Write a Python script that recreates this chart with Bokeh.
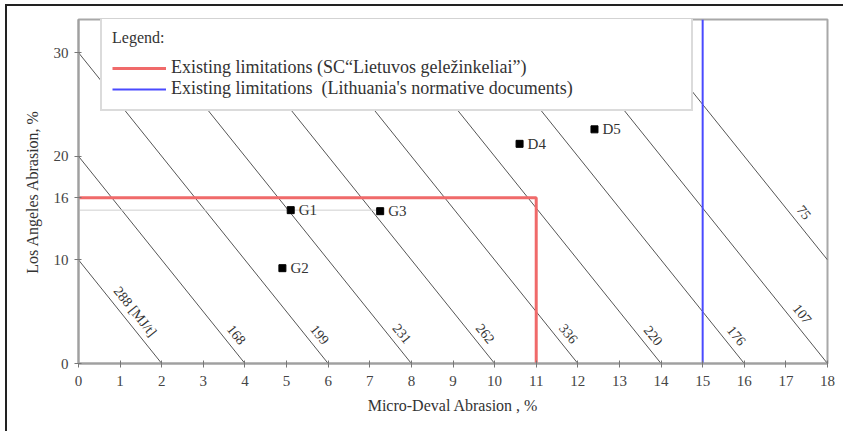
import math
from bokeh.plotting import figure
from bokeh.models import (ColumnDataSource, FixedTicker, Legend, LegendItem, Range1d)
from bokeh.core.properties import value
from bokeh.embed import file_html
from bokeh.resources import INLINE

# ---------------- data ----------------
x_ticks = [0, 1, 2, 3, 4, 5, 6, 7, 8, 9, 10, 11, 12, 13, 14, 15, 16, 17, 18]
y_ticks = [0, 10, 16, 20, 30]

# iso-lines:  LA + 5 * MDE = const
iso_const = [10, 20, 30, 40, 50, 60, 70, 80, 90, 100]
iso_slope = 5
iso_labels = ["288 [MJ/t]", "168", "199", "231", "262", "336", "220", "176", "107", "75"]
iso_label_y = [5.0, 2.8, 2.8, 2.9, 2.9, 2.9, 2.7, 2.7, 4.8, 14.6]

sample_names = ["G1", "G2", "G3", "D4", "D5"]
sample_mde = [5.1, 4.9, 7.25, 10.6, 12.4]
sample_la = [14.8, 9.2, 14.7, 21.2, 22.6]

sc_la_limit = 16      # SC "Lietuvos geležinkeliai"
sc_mde_limit = 11
lt_mde_limit = 15     # Lithuania's normative documents

x_max = 18
y_max = 33.2

# ---------------- figure ----------------
W, H = 838, 427
ML, MR, MT, MB = 71, 18, 13, 70
FONT = "Liberation Serif"

p = figure(width=W, height=H, output_backend="svg", toolbar_location=None,
           x_range=Range1d(0, x_max), y_range=Range1d(0, y_max),
           min_border_left=ML, min_border_right=MR, min_border_top=MT, min_border_bottom=MB)
p.styles = {"margin-top": "4px", "margin-left": "5px",
            "border-top": "2px solid #222", "border-left": "2px solid #222"}
p.background_fill_color = "white"
p.border_fill_color = "white"
p.outline_line_color = "#a8a8a8"
p.outline_line_width = 2
p.grid.visible = False

for ax in (p.xaxis[0], p.yaxis[0]):
    ax.axis_line_color = "#a0a0a0"
    ax.axis_line_width = 2
    ax.major_tick_line_color = "#777777"
    ax.major_tick_out = 4
    ax.major_tick_in = 3
    ax.minor_tick_line_color = None
    ax.major_label_text_font = FONT
    ax.major_label_text_font_size = "15px"
    ax.major_label_text_color = "#444444"
    ax.axis_label_text_font = FONT
    ax.axis_label_text_font_size = "16px"
    ax.axis_label_text_font_style = "normal"
    ax.axis_label_text_color = "#333333"

p.xaxis.ticker = FixedTicker(ticks=x_ticks)
p.yaxis.ticker = FixedTicker(ticks=y_ticks)
p.xaxis.axis_label = "Micro-Deval Abrasion , %"
p.yaxis.axis_label = "Los Angeles Abrasion, %"
p.xaxis.major_label_standoff = 8
p.yaxis.major_label_standoff = 6
p.xaxis.axis_label_standoff = 8
p.yaxis.axis_label_standoff = 10

# iso-lines clipped to the plot box
xs, ys = [], []
for c in iso_const:
    if c <= y_max:
        x0, y0 = 0.0, float(c)
    else:
        x0, y0 = (c - y_max) / iso_slope, y_max
    if c / iso_slope <= x_max:
        x1, y1 = c / iso_slope, 0.0
    else:
        x1, y1 = x_max, c - iso_slope * x_max
    xs.append([x0, x1])
    ys.append([y0, y1])
p.multi_line(xs, ys, line_color="#555555", line_width=1)

# iso-line labels
plot_w = W - ML - MR
plot_h = H - MT - MB
px_x = plot_w / x_max
px_y = plot_h / y_max
ang = -math.atan2(iso_slope * px_y, px_x)
lab_x = [(c - yy) / iso_slope for c, yy in zip(iso_const, iso_label_y)]
p.text(lab_x, iso_label_y, text=iso_labels, angle=ang, x_offset=15,
       text_font=value(FONT), text_font_size="14px", text_color="#333333",
       text_align="center", text_baseline="middle",
       background_fill_color="white")

# helper guide through G1/G3
p.line([0, sample_mde[2]], [sample_la[0], sample_la[0]], line_color="#cfcfcf", line_width=1)

# limits
red = p.line([0, sc_mde_limit, sc_mde_limit], [sc_la_limit, sc_la_limit, 0],
             line_color="#f06a6a", line_width=3)
blue = p.line([lt_mde_limit, lt_mde_limit], [0, y_max], line_color="#4a4aff", line_width=2)

# samples
src = ColumnDataSource(dict(x=sample_mde, y=sample_la, name=sample_names))
p.scatter("x", "y", source=src, marker="square", size=7, color="black")
p.text("x", "y", text="name", source=src, x_offset=8,
       text_font=value(FONT), text_font_size="15px", text_color="#333333",
       text_align="left", text_baseline="middle")

legend = Legend(items=[
    LegendItem(label="Existing limitations (SC\u201cLietuvos gele\u017einkeliai\u201d)", renderers=[red]),
    LegendItem(label="Existing limitations  (Lithuania's normative documents)", renderers=[blue]),
], location=(22, 252), title="Legend:")
legend.title_text_font = FONT
legend.title_text_font_size = "16px"
legend.title_text_font_style = "normal"
legend.title_text_color = "#333333"
legend.title_standoff = 10
legend.label_text_font = FONT
legend.label_text_font_size = "18px"
legend.label_text_color = "#333333"
legend.label_width = 510
legend.glyph_width = 54
legend.label_height = 20
legend.glyph_height = 20
legend.spacing = 0
legend.padding = 10
legend.margin = 0
legend.border_line_color = "#b8b8b8"
legend.border_line_width = 2
legend.background_fill_color = "white"
legend.background_fill_alpha = 1.0
p.add_layout(legend, "center")

open("out.html", "w").write(file_html(p, INLINE))
